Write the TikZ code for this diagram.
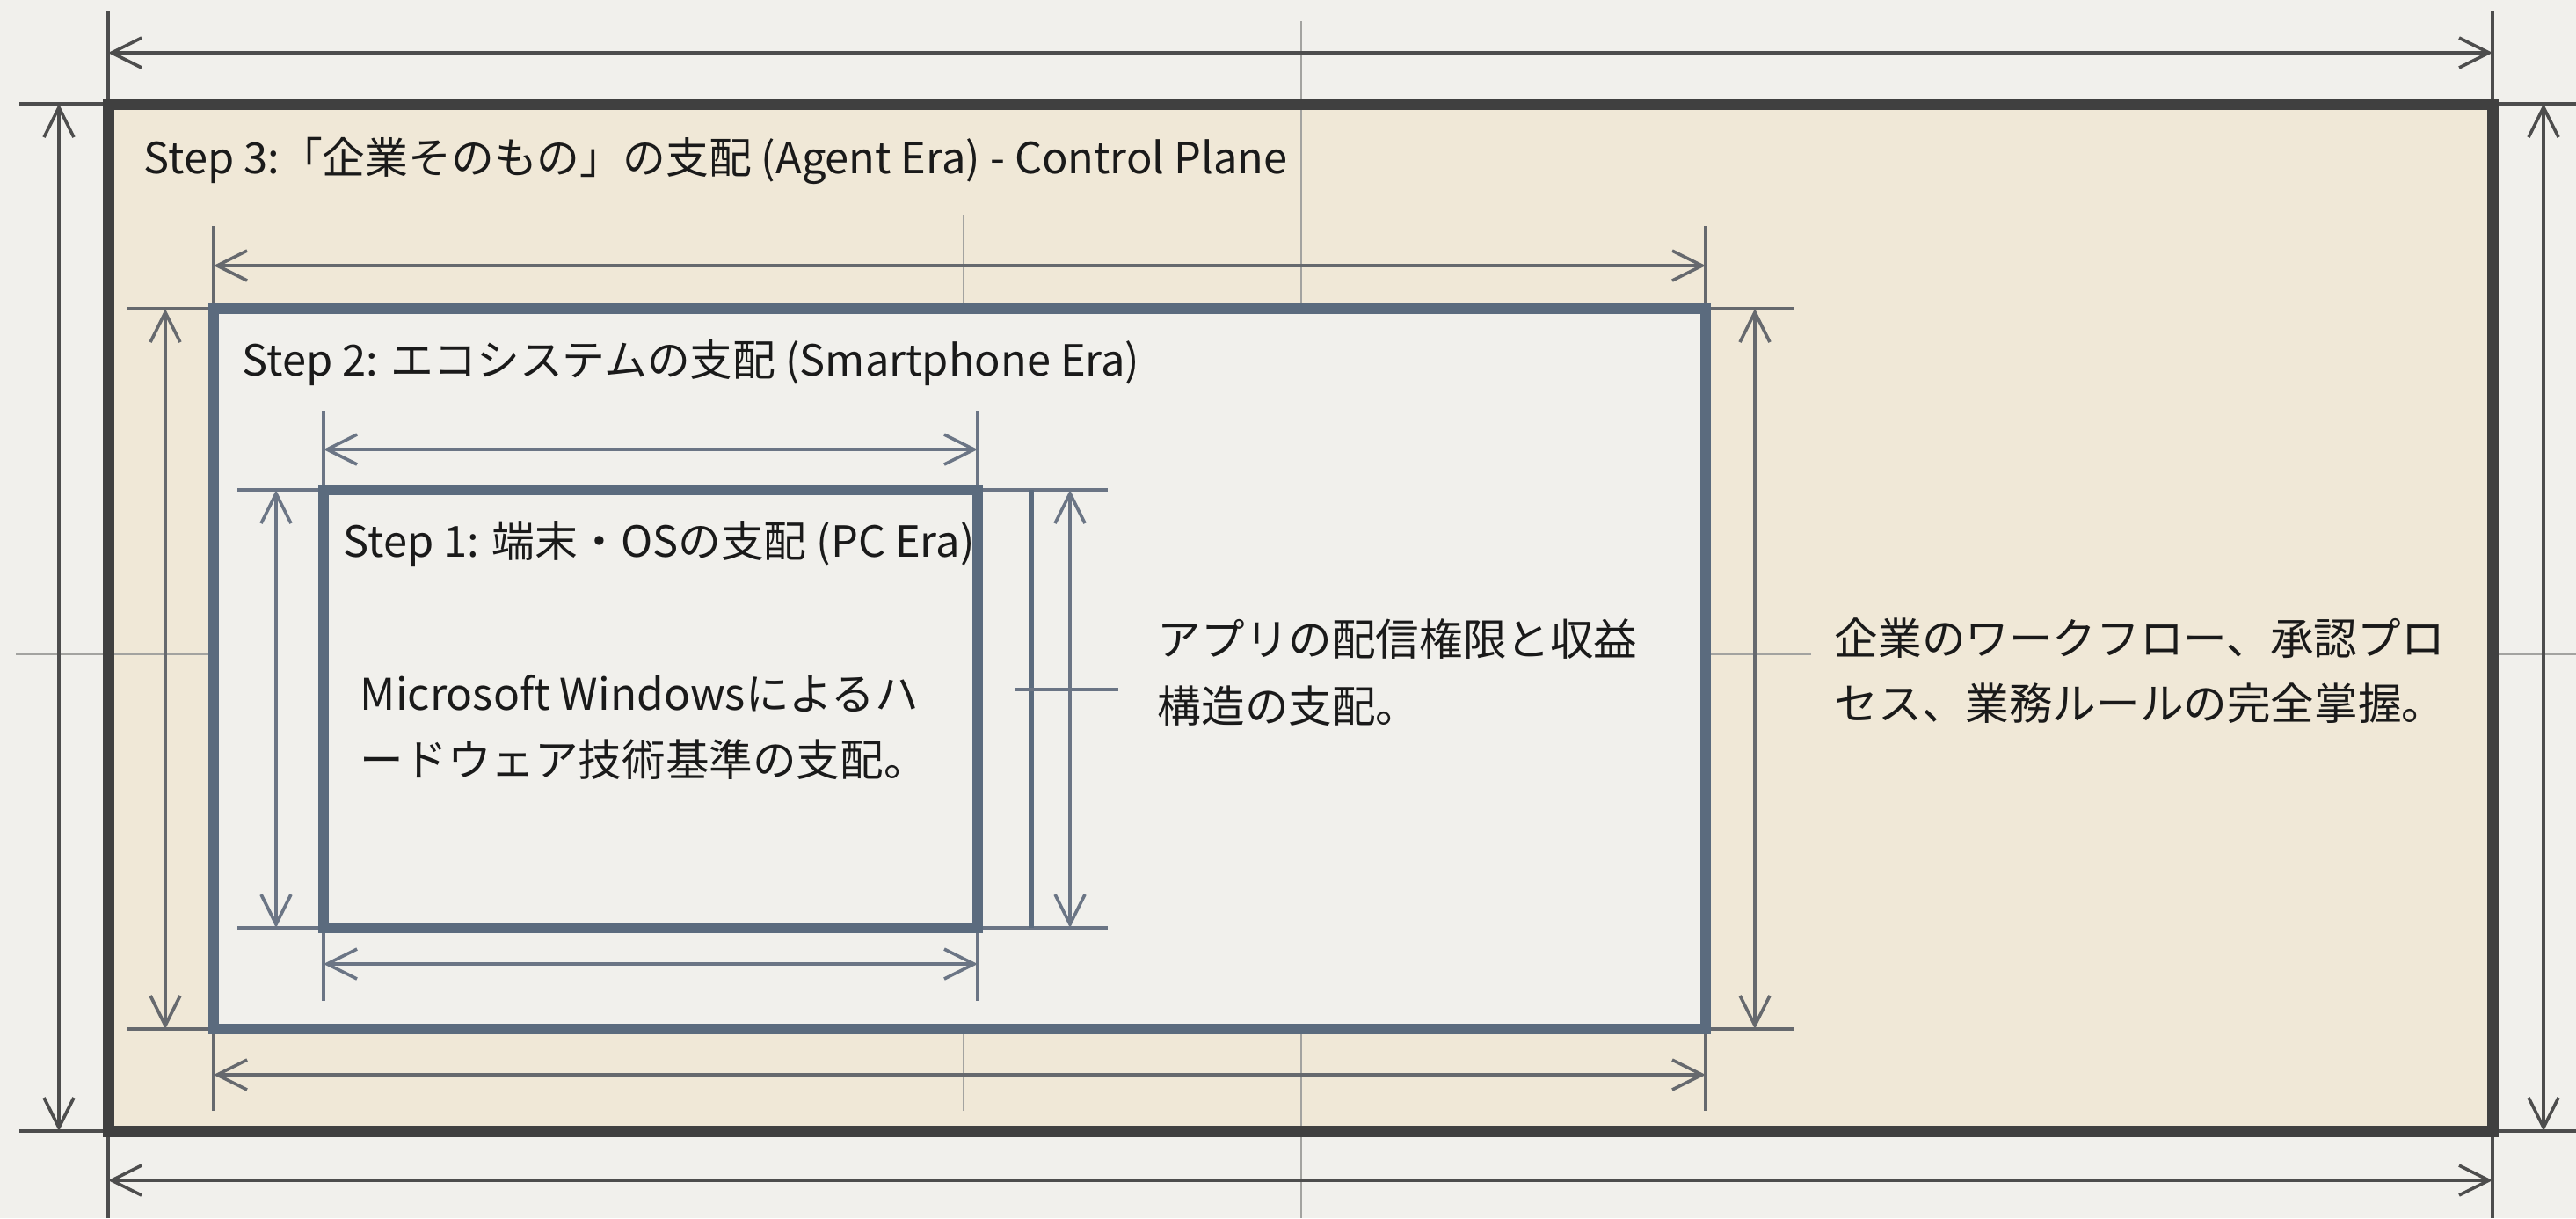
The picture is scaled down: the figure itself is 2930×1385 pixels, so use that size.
\documentclass[tikz,border=0pt]{standalone}
\usepackage{fontspec}
\setmainfont{Noto Sans CJK JP}
\usetikzlibrary{arrows.meta}
\definecolor{bgc}{HTML}{F1F0EC}
\definecolor{beige}{HTML}{F0E8D7}
\definecolor{darkb}{HTML}{404040}
\definecolor{steel}{HTML}{5B6B7E}
\definecolor{dimdark}{HTML}{4D4D4D}
\definecolor{dimmid}{HTML}{66696E}
\definecolor{dimsteel}{HTML}{6B7585}
\definecolor{cline}{HTML}{A3A3A0}
\definecolor{ink}{HTML}{1A1A1A}
\tikzset{
  dimarrow/.style={{Straight Barb[length=8.5pt,width=8.5pt,line width=0.9pt]}-{Straight Barb[length=8.5pt,width=8.5pt,line width=0.9pt]}, line width=0.9pt},
  dimo/.style={dimarrow, dimdark},
  dimm/.style={dimarrow, dimmid},
  dimi/.style={dimarrow, dimsteel},
  exto/.style={line width=0.8pt, dimdark},
  extm/.style={line width=0.8pt, dimmid},
  exti/.style={line width=0.8pt, dimsteel},
  centerline/.style={line width=0.7pt, cline},
  titletext/.style={anchor=base west, inner sep=0pt, text=ink, font=\fontsize{12.2}{14}\selectfont},
  bodytext/.style={anchor=base west, inner sep=0pt, text=ink, font=\fontsize{12.4}{15}\selectfont},
}
\begin{document}
\begin{tikzpicture}[x=0.25pt,y=-0.25pt]
\fill[bgc] (0,0) rectangle (2930,1385);
\useasboundingbox (0,0) rectangle (2930,1385);

% box corners
\coordinate (o1) at (123,118);  \coordinate (o2) at (2835,1286);
\coordinate (m1) at (243,351);  \coordinate (m2) at (1940,1170);
\coordinate (i1) at (368,557);  \coordinate (i2) at (1112,1055);

% fills
\fill[beige] (o1) rectangle (o2);
\fill[bgc] (m1) rectangle (m2);
\fill[bgc] (i1) rectangle (i2);

% center lines
\draw[centerline] (18,744) -- (243,744);
\draw[centerline] (1940,744) -- (2060,744);
\draw[centerline] (2835,744) -- (2930,744);
\draw[centerline] (1480,24) -- (1480,351);
\draw[centerline] (1480,1170) -- (1480,1385);
\draw[centerline] (1096,245) -- (1096,351);
\draw[centerline] (1096,1170) -- (1096,1263);

% ---- outer (Step 3) dimensions
\coordinate (ot1) at (123,60);   \coordinate (ot2) at (2835,60);
\coordinate (ob1) at (123,1342); \coordinate (ob2) at (2835,1342);
\coordinate (ol1) at (67,118);   \coordinate (ol2) at (67,1286);
\coordinate (or1) at (2893,118); \coordinate (or2) at (2893,1286);
\draw[exto] (123,13) -- (123,118);
\draw[exto] (2835,13) -- (2835,118);
\draw[exto] (123,1286) -- (123,1385);
\draw[exto] (2835,1286) -- (2835,1385);
\draw[exto] (22,118) -- (123,118);
\draw[exto] (22,1286) -- (123,1286);
\draw[exto] (2835,118) -- (2930,118);
\draw[exto] (2835,1286) -- (2930,1286);
\draw[dimo] (ot1) -- (ot2);
\draw[dimo] (ob1) -- (ob2);
\draw[dimo] (ol1) -- (ol2);
\draw[dimo] (or1) -- (or2);

% ---- Step 2 dimensions
\coordinate (mt1) at (243,302);  \coordinate (mt2) at (1940,302);
\coordinate (mb1) at (243,1222); \coordinate (mb2) at (1940,1222);
\coordinate (ml1) at (188,351);  \coordinate (ml2) at (188,1170);
\coordinate (mr1) at (1996,351); \coordinate (mr2) at (1996,1170);
\draw[extm] (243,257) -- (243,351);
\draw[extm] (1940,257) -- (1940,351);
\draw[extm] (243,1170) -- (243,1263);
\draw[extm] (1940,1170) -- (1940,1263);
\draw[extm] (145,351) -- (243,351);
\draw[extm] (145,1170) -- (243,1170);
\draw[extm] (1940,351) -- (2040,351);
\draw[extm] (1940,1170) -- (2040,1170);
\draw[dimm] (mt1) -- (mt2);
\draw[dimm] (mb1) -- (mb2);
\draw[dimm] (ml1) -- (ml2);
\draw[dimm] (mr1) -- (mr2);

% ---- Step 1 dimensions
\coordinate (it1) at (368,511);  \coordinate (it2) at (1112,511);
\coordinate (ib1) at (368,1096); \coordinate (ib2) at (1112,1096);
\coordinate (il1) at (314,557);  \coordinate (il2) at (314,1055);
\coordinate (ir1) at (1217,557); \coordinate (ir2) at (1217,1055);
\draw[exti] (368,467) -- (368,557);
\draw[exti] (1112,467) -- (1112,557);
\draw[exti] (368,1055) -- (368,1138);
\draw[exti] (1112,1055) -- (1112,1138);
\draw[exti] (270,557) -- (368,557);
\draw[exti] (270,1055) -- (368,1055);
\draw[exti] (1112,557) -- (1260,557);
\draw[exti] (1112,1055) -- (1260,1055);
\draw[steel, line width=1.3pt] (1173,557) -- (1173,1055);
\draw[exti] (1154,784) -- (1272,784);
\draw[dimi] (it1) -- (it2);
\draw[dimi] (ib1) -- (ib2);
\draw[dimi] (il1) -- (il2);
\draw[dimi] (ir1) -- (ir2);

% borders
\draw[darkb, line width=3.25pt] (o1) rectangle (o2);
\draw[steel, line width=2.8pt] (m1) rectangle (m2);
\draw[steel, line width=2.8pt] (i1) rectangle (i2);

% texts
\node[titletext] (t3) at (163,197) {Step 3:「企業そのもの」の支配 (Agent Era) - Control Plane};
\node[titletext] (t2) at (275,427) {Step 2: エコシステムの支配 (Smartphone Era)};
\node[titletext] (t1) at (390,633) {Step 1: 端末・OSの支配 (PC Era)};

\node[bodytext] (b1a) at (409,807) {Microsoft Windowsによるハ};
\node[bodytext] (b1b) at (409,882) {ードウェア技術基準の支配。};
\node[bodytext] (b2a) at (1316,745) {アプリの配信権限と収益};
\node[bodytext] (b2b) at (1316,821) {構造の支配。};
\node[bodytext] (b3a) at (2086,744) {企業のワークフロー、承認プロ};
\node[bodytext] (b3b) at (2086,818) {セス、業務ルールの完全掌握。};
\end{tikzpicture}
\end{document}
